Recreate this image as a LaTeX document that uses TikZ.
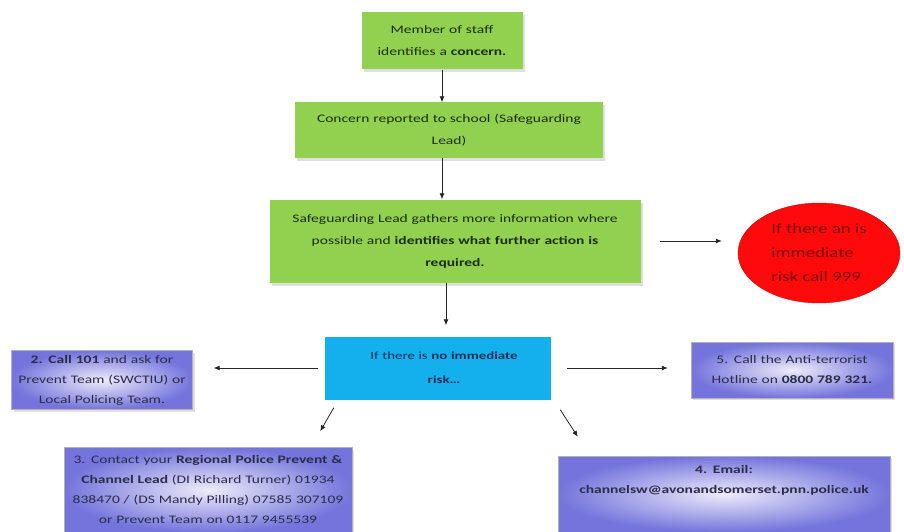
\documentclass[tikz,border=0pt]{standalone}
\usepackage{fontspec}
\setmainfont{Carlito}[FakeStretch=1.35]
\usetikzlibrary{positioning,arrows.meta,shapes.geometric,shadows}
\definecolor{stepgreen}{HTML}{92D050}
\definecolor{greentext}{HTML}{1A2E10}
\definecolor{riskblue}{HTML}{14B0EE}
\definecolor{bluetext}{HTML}{1A2E55}
\definecolor{riskred}{HTML}{FF0A0A}
\definecolor{redtext}{HTML}{7A0404}
\definecolor{purpleedge}{HTML}{7474DC}
\definecolor{purplemid}{HTML}{ECECFA}
\definecolor{purpletext}{HTML}{2C2C48}

\begin{document}
\begin{tikzpicture}[
x=1pt, y=-1pt,
font=\fontsize{11.5}{22}\selectfont,
greenbox/.style={fill=stepgreen, text=greentext, align=center, inner sep=0pt,
  drop shadow={opacity=0.25, shadow xshift=2pt, shadow yshift=-3pt}},
purplebox/.style={inner color=purplemid, outer color=purpleedge, draw=gray!60, text=purpletext,
  align=center, inner sep=0pt, font=\fontsize{11.5}{20}\selectfont,
  drop shadow={opacity=0.25, shadow xshift=2pt, shadow yshift=-2pt}},
arrow/.style={-{Latex[length=6pt,width=5pt]}, thick, draw=black!85}
]
\useasboundingbox (0,0) rectangle (904,532);

\node[greenbox, text width=161pt, minimum height=57pt] (staff) at (442,41)
  {Member of staff\\identifies a \textbf{concern.}};
\node[greenbox, text width=308pt, minimum height=55pt] (report) at (449,130)
  {Concern reported to school (Safeguarding\\Lead)};
\node[greenbox, text width=371pt, minimum height=83pt] (lead) at (455,241)
  {Safeguarding Lead gathers more information where\\possible and \textbf{identifies what further action is}\\\textbf{required.}};
\node[ellipse, fill=riskred, text=redtext, draw=riskred!80!black, align=left, inner sep=0pt,
  minimum width=162pt, minimum height=100pt, font=\fontsize{14}{24}\selectfont] (urgent) at (819,253)
  {If there an is\\immediate\\risk call 999};
\node[fill=riskblue, text=bluetext, align=center, text width=226pt, minimum height=63pt,
  inner sep=0pt, font=\fontsize{11}{24}\selectfont] (norisk) at (438,368)
  {\hspace*{12pt}If there is \textbf{no immediate}\\\hspace*{12pt}\textbf{risk…}};

\node[purplebox, text width=181pt, minimum height=59pt] (call) at (102,380)
  {\textbf{2. Call 101} and ask for\\Prevent Team (SWCTIU) or\\Local Policing Team.};
\node[purplebox, text width=202pt, minimum height=56pt] (hotline) at (792,370)
  {5. Call the Anti-terrorist\\Hotline on \textbf{0800 789 321.}};
\node[purplebox, text width=288pt, minimum height=85pt] (regional) at (208,490)
  {3. Contact your \textbf{Regional Police Prevent \&}\\\textbf{Channel Lead} (DI Richard Turner) 01934\\838470 / (DS Mandy Pilling) 07585 307109\\or Prevent Team on 0117 9455539};
\node[purplebox, text width=332pt, minimum height=76pt, text depth=50pt] (email) at (724,494)
  {\textbf{4. Email:}\\\textbf{channelsw@avonandsomerset.pnn.police.uk}};

\draw[arrow] (staff.south) -- (staff.south |- report.north);
\draw[arrow] ([xshift=-7pt]report.south) -- ([xshift=-7pt]report.south |- lead.north);
\draw[arrow, shorten >=11pt] ([xshift=-9pt]lead.south) -- ([xshift=-9pt]lead.south |- norisk.north);
\draw[arrow, shorten <=19pt, shorten >=16pt] (lead.east) -- (lead.east -| urgent.west);
\draw[arrow, shorten <=7pt, shorten >=21pt] (norisk.west) -- (norisk.west -| call.east);
\draw[arrow, shorten <=16pt, shorten >=23pt] (norisk.east) -- (norisk.east -| hotline.west);
\draw[arrow] ([shift={(9,8)}]norisk.south west) -- ([shift={(-32,-16)}]regional.north east);
\draw[arrow] ([shift={(9,10)}]norisk.south east) -- ([shift={(20,-19)}]email.north west);
\end{tikzpicture}
\end{document}
